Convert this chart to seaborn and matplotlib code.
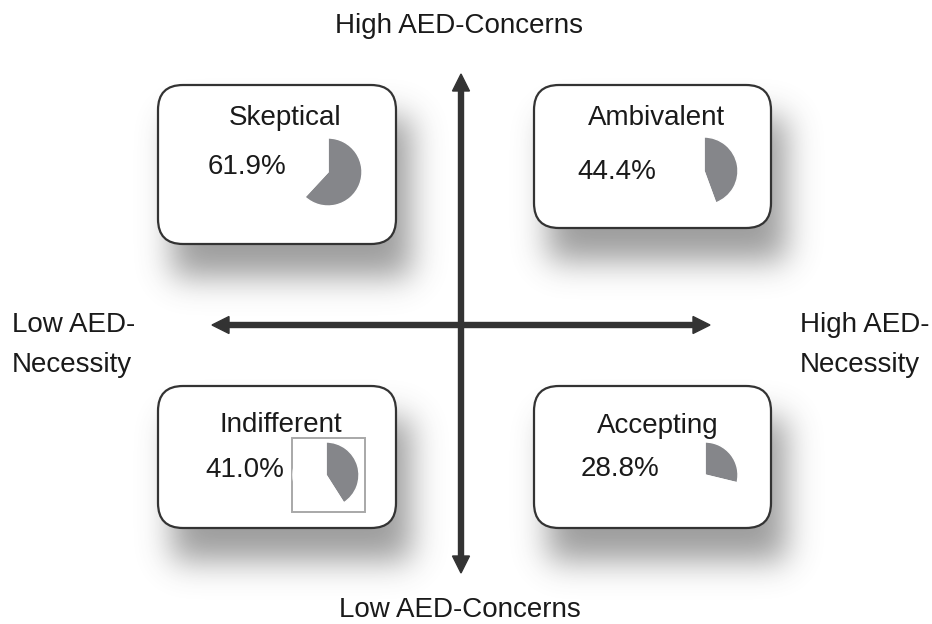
import numpy as np
import seaborn as sns
import matplotlib.pyplot as plt
from matplotlib.patches import FancyBboxPatch, Rectangle

# Daten
profiles = ["Skeptical", "Ambivalent", "Indifferent", "Accepting"]
percent = [61.9, 44.4, 41.0, 28.8]
axis_labels = ["High AED-Concerns", "Low AED-Concerns", "Low AED-\nNecessity", "High AED-\nNecessity"]

W, H = 932, 624

# Layout in Pixeln (x, y, breite, hoehe) der Boxen
boxes = [(158, 85, 238, 159), (534, 85, 237, 143), (158, 386, 238, 142), (534, 386, 237, 142)]
name_pos = [(285, 125), (657, 125), (281, 432), (658, 433)]
pct_pos = [(247, 174), (617, 179), (245, 477), (620, 476)]
pie_pos = [(328, 172, 34), (704, 171, 34), (326, 475, 33), (705, 475, 33)]

sns.set_theme(style="white")
plt.rcParams["font.family"] = ["Liberation Sans", "DejaVu Sans"]

fig = plt.figure(figsize=(W / 100, H / 100), dpi=100)
ax = fig.add_axes([0, 0, 1, 1])

# Weicher Schatten unter den Boxen
yy, xx = np.mgrid[0:H, 0:W]
mask = np.zeros((H, W))
dx, dy = 14, 32
for (x, y, w, h) in boxes:
    mask[(yy >= y + dy) & (yy <= y + h + dy) & (xx >= x + dx) & (xx <= x + w + dx)] = 1
sigma = 16
k = np.arange(-50, 51)
kernel = np.exp(-k ** 2 / (2 * sigma ** 2))
kernel /= kernel.sum()
blur = np.apply_along_axis(lambda r: np.convolve(r, kernel, mode="same"), 1, mask)
blur = np.apply_along_axis(lambda c: np.convolve(c, kernel, mode="same"), 0, blur)
shadow = np.zeros((H, W, 4))
shadow[..., :3] = 0.3
shadow[..., 3] = blur * 0.55
ax.imshow(shadow, extent=(0, W, H, 0), origin="upper", aspect="auto", zorder=1)

# Boxen
for (x, y, w, h) in boxes:
    ax.add_patch(FancyBboxPatch((x, y), w, h, boxstyle="round,pad=0,rounding_size=25",
                                facecolor="white", edgecolor="#333333", linewidth=1.6, zorder=2))

# Rahmen um Indifferent-Kreis
ax.add_patch(Rectangle((292, 438), 73, 74, facecolor="none", edgecolor="#a8a8a8",
                       linewidth=1.4, zorder=3))

# Achsenpfeile
cx, cy = 461, 325
for tx, ty in [(461, 74), (461, 573), (212, 325), (710, 325)]:
    ax.arrow(cx, cy, tx - cx, ty - cy, width=5, head_width=17, head_length=17,
             length_includes_head=True, color="#333333", zorder=3)

# Texte
for name, p, (nx, ny), (px, py) in zip(profiles, percent, name_pos, pct_pos):
    ax.text(nx, ny, name, fontsize=20, ha="center", va="baseline", color="#1a1a1a", zorder=4)
    ax.text(px, py, f"{p:.1f}%", fontsize=20, ha="center", va="baseline", color="#1a1a1a", zorder=4)

ax.text(459, 33, axis_labels[0], fontsize=20, ha="center", va="baseline", color="#1a1a1a")
ax.text(460, 617, axis_labels[1], fontsize=20, ha="center", va="baseline", color="#1a1a1a")
for lbl, lx in [(axis_labels[2], 12), (axis_labels[3], 800)]:
    first, second = lbl.split("\n")
    ax.text(lx, 332, first, fontsize=20, ha="left", va="baseline", color="#1a1a1a")
    ax.text(lx, 372, second, fontsize=20, ha="left", va="baseline", color="#1a1a1a")

ax.set_xlim(0, W)
ax.set_ylim(H, 0)
ax.axis("off")

# Kreisdiagramme
for p, (px, py, r) in zip(percent, pie_pos):
    pax = fig.add_axes([(px - r) / W, (H - py - r) / H, 2 * r / W, 2 * r / H])
    pax.pie([p, 100 - p], colors=["#85868a", (1, 1, 1, 0)], startangle=90,
            counterclock=False, radius=1)
    pax.set_xlim(-1, 1)
    pax.set_ylim(-1, 1)
    pax.axis("off")

plt.savefig("out.png", dpi=100)
